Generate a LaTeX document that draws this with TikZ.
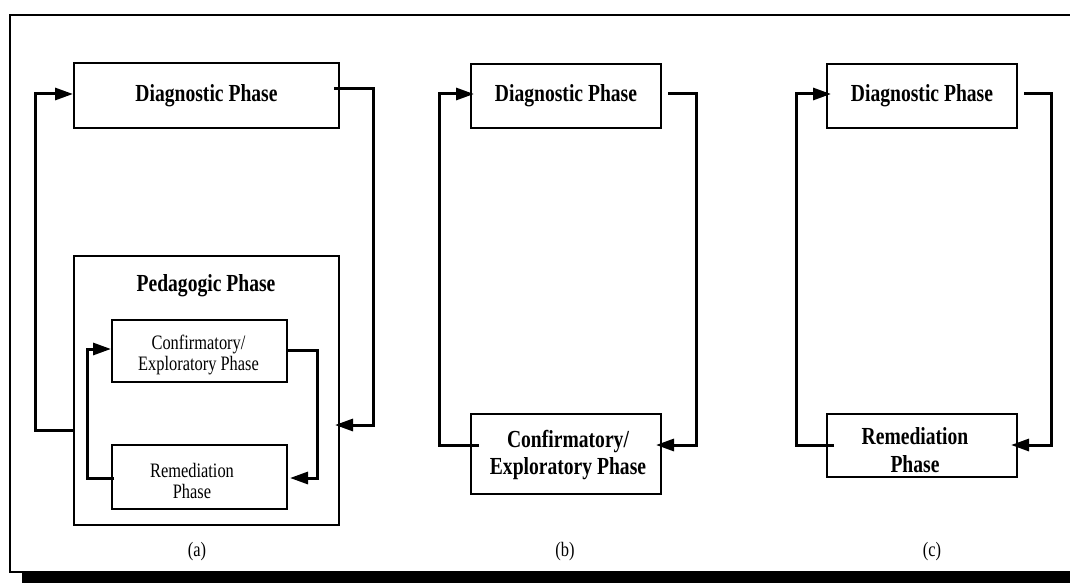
\documentclass[tikz,border=0pt]{standalone}
\usepackage{fontspec}
\setmainfont[FakeStretch=0.8]{Liberation Serif}
\usetikzlibrary{arrows.meta}
\begin{document}
\begin{tikzpicture}[x=1pt,y=-1pt,
  phasebox/.style={draw, line width=2pt, inner sep=0pt, align=center},
  boldtext/.style={font=\fontsize{24.5}{27}\selectfont\bfseries, align=center},
  plaintext/.style={font=\fontsize{20.5}{21}\selectfont, align=center},
  flow/.style={line width=3pt, -{Triangle[length=18pt,width=12pt]}}]
\useasboundingbox (0,0) rectangle (1070,583);
\clip (0,0) rectangle (1070,583);

% shadowed outer frame
\fill (22,572) rectangle (1085,595);
\draw[line width=2pt] (10,15) rectangle (1085,572);

% ---- (a) ----
\node[phasebox, boldtext, minimum width=265pt, minimum height=65pt] (diagA) at (206.5,95.5) {Diagnostic Phase};
\node[phasebox, minimum width=265pt, minimum height=269pt] (pedA) at (206.5,390.5) {};
\node[boldtext, anchor=base] (pedtitle) at (206,291) {Pedagogic Phase};
\node[phasebox, minimum width=175pt, minimum height=62pt] (confA) at (199.5,351) {};
\node[plaintext] (confAtxt) at (198.5,355) {Confirmatory/\\Exploratory Phase};
\node[phasebox, minimum width=175pt, minimum height=64pt] (remA) at (199.5,477) {};
\node[plaintext] (remAtxt) at (192,481) {Remediation\\Phase};
\node[plaintext, anchor=base] (capA) at (197,556) {(a)};

\draw[flow] ([xshift=-6pt,yshift=6.5pt]diagA.east) -- ++(39,0) |- ([xshift=-5pt,yshift=-34.5pt]pedA.east);
\draw[flow] ([yshift=-39.5pt]pedA.west) -- ++(-38,0) |- ([yshift=1.5pt]diagA.west);
\draw[flow] ([xshift=3pt,yshift=-1pt]remA.west) -- ++(-27,0) |- ([yshift=2pt]confA.west);
\draw[flow] ([yshift=1pt]confA.east) -- ++(29,0) |- ([xshift=2pt,yshift=-1pt]remA.east);

% ---- (b) ----
\node[phasebox, boldtext, minimum width=190pt, minimum height=64pt] (diagB) at (566,96) {Diagnostic Phase};
\node[phasebox, minimum width=190pt, minimum height=80pt] (confB) at (566,454) {};
\node[boldtext] (confBtxt) at (568,455.5) {Confirmatory/\\Exploratory Phase};
\node[plaintext, anchor=base] (capB) at (565,556) {(b)};

\draw[flow] ([xshift=9pt,yshift=9pt]confB.west) -- ++(-40,0) |- ([xshift=4pt,yshift=2pt]diagB.west);
\draw[flow] ([xshift=6pt,yshift=2pt]diagB.east) -- ++(28,0) |- ([xshift=-6pt,yshift=9pt]confB.east);

% ---- (c) ----
\node[phasebox, boldtext, minimum width=190pt, minimum height=64pt] (diagC) at (922,96) {Diagnostic Phase};
\node[phasebox, minimum width=190pt, minimum height=63pt] (remC) at (922,445.5) {};
\node[font=\fontsize{24.5}{28}\selectfont\bfseries, align=center] (remCtxt) at (915,450) {Remediation\\Phase};
\node[plaintext, anchor=base] (capC) at (932,556) {(c)};

\draw[flow] ([xshift=8pt,yshift=0.5pt]remC.west) -- ++(-38,0) |- ([xshift=5pt,yshift=2pt]diagC.west);
\draw[flow] ([xshift=6pt,yshift=2pt]diagC.east) -- ++(27,0) |- ([xshift=-7pt,yshift=0.5pt]remC.east);
\end{tikzpicture}
\end{document}
